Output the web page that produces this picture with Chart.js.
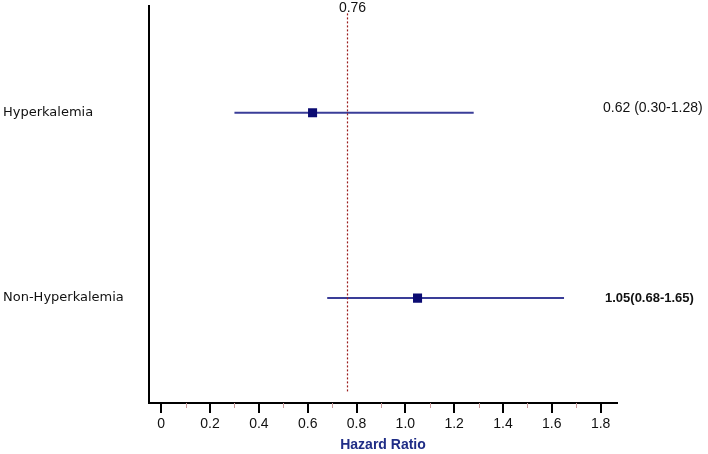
<!DOCTYPE html>
<html>
<head>
<meta charset="utf-8">
<script src="https://cdn.jsdelivr.net/npm/chart.js@4.4.1/dist/chart.umd.min.js"></script>
<style>
  html, body { margin: 0; padding: 0; background: #fff; }
  #wrap { width: 708px; height: 454px; }
</style>
</head>
<body>
<div id="wrap"><canvas id="c" width="708" height="454"></canvas></div>
<script>
// ---- data ----
const categories = ['Hyperkalemia', 'Non-Hyperkalemia'];
const hazardRatio = [0.62, 1.05];
const ciLower = [0.30, 0.68];
const ciUpper = [1.28, 1.65];
const ciLabels = ['0.62 (0.30-1.28)', '1.05(0.68-1.65)'];
const referenceValue = 0.76;
const referenceLabel = '0.76';
const xTickValues = [0, 0.2, 0.4, 0.6, 0.8, 1.0, 1.2, 1.4, 1.6, 1.8];
const xMinorTickValues = [0.1, 0.3, 0.5, 0.7, 0.9, 1.1, 1.3, 1.5, 1.7];
const xTitle = 'Hazard Ratio';

// ---- datasets built from data ----
const ciDatasets = categories.map((c, i) => ({
  type: 'line',
  label: c + ' CI',
  data: [{ x: ciLower[i], y: i }, { x: ciUpper[i], y: i }],
  borderColor: '#3a3d98',
  borderWidth: 2,
  pointRadius: 0,
  fill: false,
  order: 2
}));
const pointDataset = {
  type: 'scatter',
  label: 'HR',
  data: hazardRatio.map((v, i) => ({ x: v, y: i })),
  pointStyle: 'rect',
  pointRadius: 6.4,
  backgroundColor: '#0b0b72',
  borderColor: '#0b0b72',
  borderWidth: 0,
  order: 1
};

const forestPlugin = {
  id: 'forest',
  afterDatasetsDraw(chart, args, opts) {
    const ctx = chart.ctx;
    const xs = chart.scales.x, ys = chart.scales.y;
    const area = chart.chartArea;
    ctx.save();
    // reference line
    const rx = Math.round(xs.getPixelForValue(referenceValue)) + 0.5;
    ctx.strokeStyle = '#9b1c1c';
    ctx.lineWidth = 1.2;
    ctx.setLineDash([2, 2]);
    ctx.beginPath();
    ctx.moveTo(rx, area.top + 7);
    ctx.lineTo(rx, area.bottom - 11);
    ctx.stroke();
    ctx.setLineDash([]);
    // reference label
    ctx.fillStyle = '#111';
    ctx.font = '14px "Liberation Sans", Arial, sans-serif';
    ctx.textAlign = 'center';
    ctx.textBaseline = 'middle';
    ctx.fillText(referenceLabel, rx + 5, area.top + 2);
    // right-side annotations
    ctx.textAlign = 'left';
    ciLabels.forEach((t, i) => {
      const y = ys.getPixelForValue(i) + opts.labelOffsets[i];
      ctx.font = opts.labelFonts[i];
      ctx.fillText(t, area.right - 14 + opts.labelShift[i], y);
    });
    // minor ticks
    ctx.strokeStyle = '#c79a9a';
    ctx.lineWidth = 1;
    xMinorTickValues.forEach(v => {
      const px = Math.round(xs.getPixelForValue(v)) + 0.5;
      ctx.beginPath();
      ctx.moveTo(px, area.bottom);
      ctx.lineTo(px, area.bottom + 5);
      ctx.stroke();
    });
    ctx.restore();
  }
};

new Chart(document.getElementById('c'), {
  data: { datasets: [...ciDatasets, pointDataset] },
  options: {
    responsive: false,
    animation: false,
    layout: { padding: { left: 3, top: 0, right: 91, bottom: 0 } },
    plugins: {
      legend: { display: false },
      tooltip: { enabled: false },
      forest: {
        labelOffsets: [-5, 0],
        labelShift: [0, 2],
        labelFonts: ['14px "Liberation Sans", Arial, sans-serif', 'bold 13px "Liberation Sans", Arial, sans-serif']
      }
    },
    scales: {
      x: {
        type: 'linear',
        min: -0.05,
        max: 1.867,
        afterBuildTicks: s => { s.ticks = xTickValues.map(v => ({ value: v })); },
        afterFit: s => { s.height = 51; s.paddingLeft = 0; s.paddingRight = 0; },
        ticks: {
          color: '#111',
          padding: 3,
          font: { family: '"Liberation Sans", Arial, sans-serif', size: 14 },
          callback: v => (v === 0 ? '0' : Number(v).toFixed(1))
        },
        grid: {
          drawOnChartArea: false,
          drawTicks: true,
          tickLength: 10,
          color: '#000',
          lineWidth: 2
        },
        border: { display: true, color: '#000', width: 2 },
        title: {
          display: true,
          text: xTitle,
          color: '#1f2d86',
          font: { family: '"Liberation Sans", Arial, sans-serif', size: 14, weight: 'bold' },
          padding: { top: 4, bottom: 0 }
        }
      },
      y: {
        type: 'linear',
        reverse: true,
        min: -0.574,
        max: 1.566,
        afterBuildTicks: s => { s.ticks = categories.map((c, i) => ({ value: i })); },
        afterFit: s => { s.width = 146; s.paddingTop = 0; s.paddingBottom = 0; },
        ticks: {
          crossAlign: 'far',
          color: '#111',
          font: { family: '"DejaVu Sans", sans-serif', size: 13 },
          callback: v => categories[v]
        },
        grid: { display: false, drawTicks: false },
        border: { display: true, color: '#000', width: 2 }
      }
    }
  },
  plugins: [forestPlugin]
});
</script>
</body>
</html>
